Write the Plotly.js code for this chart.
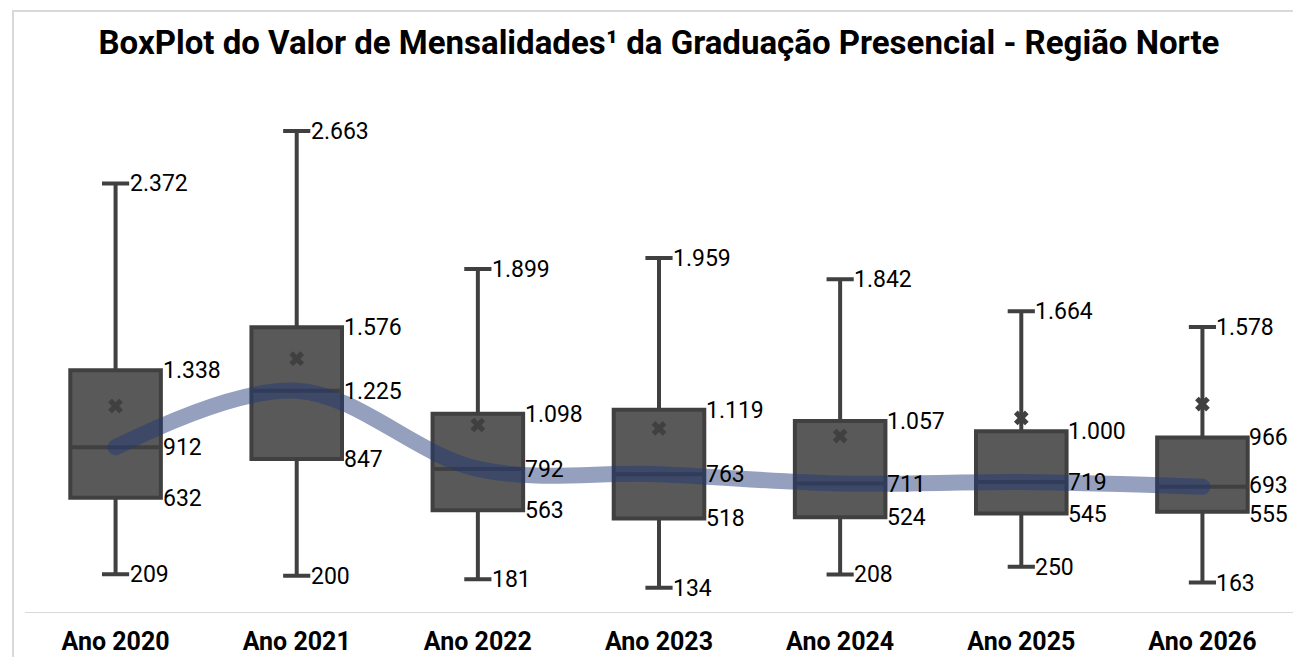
<!DOCTYPE html>
<html>
<head>
<meta charset="utf-8">
<script src="https://cdn.plot.ly/plotly-3.0.1.min.js"></script>
<style>
  html, body { margin: 0; padding: 0; background: #fff; }
  #frame { position: absolute; left: 12px; top: 10px; width: 1281px; height: 647px;
           border-top: 2px solid #d9d9d9; border-left: 2px solid #d9d9d9; box-sizing: border-box; pointer-events: none; }
  #chart { width: 1293px; height: 657px; }
  .js-line { stroke-linecap: round !important; }
</style>
</head>
<body>
<div id="chart"></div>
<div id="frame"></div>
<script>
const categories = ['Ano 2020', 'Ano 2021', 'Ano 2022', 'Ano 2023', 'Ano 2024', 'Ano 2025', 'Ano 2026'];
const minimo  = [209, 200, 181, 134, 208, 250, 163];
const q1      = [632, 847, 563, 518, 524, 545, 555];
const mediana = [912, 1225, 792, 763, 711, 719, 693];
const q3      = [1338, 1576, 1098, 1119, 1057, 1000, 966];
const maximo  = [2372, 2663, 1899, 1959, 1842, 1664, 1578];
const media   = [1140, 1402, 1035, 1016, 974, 1074, 1151];

function fmt(v) {
  return String(v).replace(/\B(?=(\d{3})+(?!\d))/g, '.');
}

const boxTrace = {
  type: 'box',
  x: categories,
  q1: q1,
  median: mediana,
  q3: q3,
  lowerfence: minimo,
  upperfence: maximo,
  boxpoints: false,
  width: 0.5,
  whiskerwidth: 0.3,
  fillcolor: '#595959',
  line: { color: '#404040', width: 4 },
  hoverinfo: 'skip',
  showlegend: false
};

const lineTrace = {
  type: 'scatter',
  mode: 'lines',
  x: categories,
  y: mediana,
  line: { shape: 'spline', smoothing: 1, color: 'rgba(31,56,120,0.48)', width: 16 },
  hoverinfo: 'skip',
  showlegend: false
};

const meanTrace = {
  type: 'scatter',
  mode: 'markers',
  x: categories,
  y: media,
  marker: { symbol: 'x', size: 13, color: '#404040', line: { width: 0 } },
  hoverinfo: 'skip',
  showlegend: false
};

const plotHeightPx = 542, yMax = 3000;
const labelFont = { family: 'Roboto, sans-serif', size: 23, color: '#000000' };
const annotations = [];
categories.forEach((c, i) => {
  // separate labels that sit too close to each other
  const gapPx = (mediana[i] - q1[i]) * plotHeightPx / yMax;
  const nudge = gapPx < 28 ? Math.ceil((28 - gapPx) / 2) : 0;
  [[maximo[i], 13, 0], [q3[i], 46, 0], [mediana[i], 46, nudge], [q1[i], 46, -nudge], [minimo[i], 13, 0]].forEach(([v, s, ys]) => {
    annotations.push({
      x: c, y: v, xref: 'x', yref: 'y', text: fmt(v), showarrow: false,
      xanchor: 'left', yanchor: 'middle', xshift: s, yshift: ys, font: labelFont,
      height: 20, valign: 'middle', borderpad: 0
    });
  });
});

const layout = {
  width: 1293, height: 657,
  margin: { l: 25, r: 0, t: 70, b: 45 },
  paper_bgcolor: '#ffffff',
  plot_bgcolor: '#ffffff',
  title: {
    text: '<b>BoxPlot do Valor de Mensalidades¹ da Graduação Presencial - Região Norte</b>',
    font: { family: 'Roboto, sans-serif', size: 33, color: '#000000' },
    x: 0.5, xref: 'paper', xanchor: 'center',
    y: 1 - 42 / 657, yref: 'container', yanchor: 'middle'
  },
  xaxis: {
    type: 'category',
    range: [-0.5, 6.5],
    showline: true, linecolor: '#d9d9d9', linewidth: 1,
    showgrid: false, zeroline: false, ticks: '',
    ticklabelstandoff: 7,
    tickfont: { family: 'Roboto, sans-serif', size: 25, color: '#000000', weight: 'bold' }
  },
  yaxis: {
    range: [0, yMax],
    visible: false, showgrid: false, zeroline: false
  },
  annotations: annotations,
  showlegend: false
};

Plotly.newPlot('chart', [boxTrace, lineTrace, meanTrace], layout, { displayModeBar: false, staticPlot: true });
</script>
</body>
</html>
